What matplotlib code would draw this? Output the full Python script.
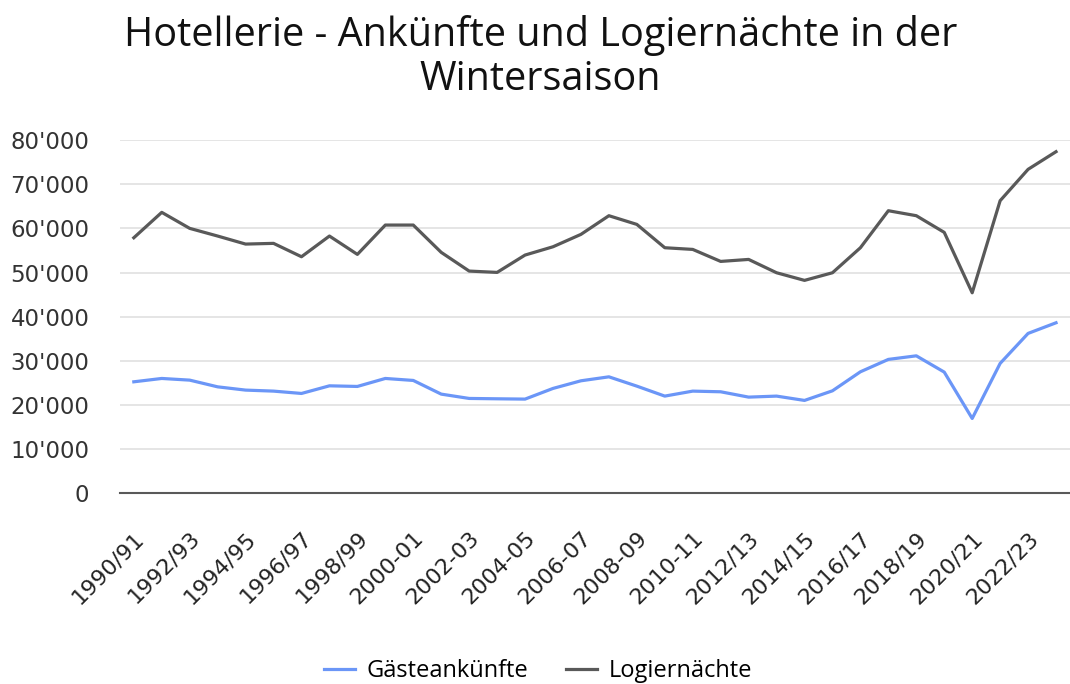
import matplotlib
matplotlib.use('Agg')
import matplotlib.pyplot as plt
from matplotlib.ticker import FuncFormatter

# Saisons (Winter)
seasons = ['1990/91', '1991/92', '1992/93', '1993/94', '1994/95', '1995/96',
           '1996/97', '1997/98', '1998/99', '1999/00', '2000-01', '2001-02',
           '2002-03', '2003-04', '2004-05', '2005-06', '2006-07', '2007-08',
           '2008-09', '2009-10', '2010-11', '2011/12', '2012/13', '2013/14',
           '2014/15', '2015/16', '2016/17', '2017/18', '2018/19', '2019/20',
           '2020/21', '2021/22', '2022/23', '2023/24']

gaesteankuenfte = [25240, 26000, 25620, 24100, 23360, 23130, 22600, 24330,
                   24190, 26000, 25550, 22450, 21470, 21390, 21320, 23740,
                   25470, 26370, 24260, 22000, 23130, 22980, 21770, 22000,
                   21020, 23200, 27510, 30320, 31130, 27440, 16930, 29410,
                   36210, 38620]

logiernaechte = [57890, 63650, 60020, 58280, 56460, 56620, 53590, 58280,
                 54120, 60770, 60770, 54580, 50340, 50040, 53970, 55850,
                 58660, 62890, 60920, 55630, 55250, 52530, 52980, 49960,
                 48230, 49960, 55630, 64020, 62890, 59110, 45420, 66290,
                 73400, 77400]

fig = plt.figure(figsize=(10.7, 6.84), dpi=100)
ax = fig.add_axes([0.112, 0.279, 0.888, 0.516])

x = list(range(len(seasons)))
ax.plot(x, gaesteankuenfte, color='#6b96f7', lw=2.3, label='Gästeankünfte',
        solid_joinstyle='round')
ax.plot(x, logiernaechte, color='#595959', lw=2.3, label='Logiernächte',
        solid_joinstyle='round')

ax.set_xlim(-0.5, len(seasons) - 0.5)
ax.set_ylim(0, 80000)
ax.set_yticks(range(0, 80001, 10000))
ax.yaxis.set_major_formatter(FuncFormatter(lambda v, p: f"{int(v):,}".replace(',', "'")))
ax.grid(axis='y', color='#e3e3e3', lw=1.3)
ax.set_axisbelow(True)

for s in ['top', 'right', 'left']:
    ax.spines[s].set_visible(False)
ax.spines['bottom'].set_color('#595959')
ax.spines['bottom'].set_linewidth(1.5)
ax.spines['bottom'].set_zorder(1)

ax.set_xticks(x[::2])
ax.set_xticklabels(seasons[::2], rotation=45, ha='right', rotation_mode='anchor',
                   fontsize=16, fontfamily='DejaVu Sans', color='#222222')
ax.tick_params(axis='x', length=0, pad=25)
ax.tick_params(axis='y', length=0, pad=22, labelsize=16.5, labelcolor='#333333')

fig.suptitle('Hotellerie - Ankünfte und Logiernächte in der\nWintersaison',
             x=0.505, y=0.978, fontsize=28.5, fontfamily='Open Sans', color='#111111',
             linespacing=1.12)

fig.legend(loc='center', bbox_to_anchor=(0.503, 0.019), ncol=2,
           frameon=False, prop={'family': 'Open Sans', 'size': 17},
           handlelength=1.3, columnspacing=1.6, handletextpad=0.5)

fig.savefig('out.png', dpi=100, facecolor='white')
